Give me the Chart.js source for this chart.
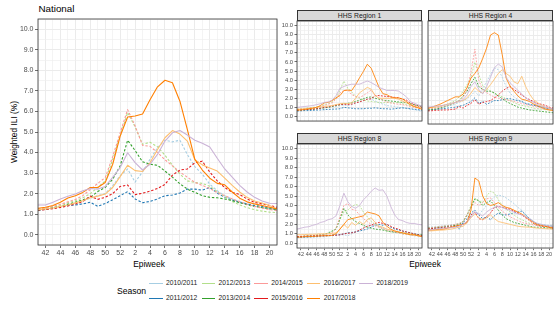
<!DOCTYPE html>
<html>
<head>
<meta charset="utf-8">
<script src="https://cdn.jsdelivr.net/npm/chart.js@4.4.1/dist/chart.umd.min.js"></script>
<style>
    body { margin: 0; width: 558px; height: 310px; background: #fff; position: relative; overflow: hidden;
           font-family: "Liberation Sans", Arial, Helvetica, sans-serif; }
    canvas { position: absolute; }
    .txt { position: absolute; white-space: nowrap; line-height: 1; }
    .strip { position: absolute; box-sizing: border-box; background: #D9D9D9; border: 0.8px solid #333;
             font-size: 6.8px; color: #1A1A1A; text-align: center; }
    .key { position: absolute; height: 1.2px; width: 13.6px; }
</style>
</head>
<body>
<div class="txt" style="left:38.5px; top:4px; font-size:9.8px; color:#000;">National</div>
<div class="txt" id="ytitle" style="left:14px; top:132px; font-size:8.4px; color:#000; transform: translate(-50%,-50%) rotate(-90deg);">Weighted ILI (%)</div>
<div class="txt" style="left:149px; top:263.5px; font-size:8.4px; color:#000; transform: translate(-50%,-50%);">Epiweek</div>
<div class="txt" style="left:425px; top:263.5px; font-size:8.4px; color:#000; transform: translate(-50%,-50%);">Epiweek</div>
<div class="txt" style="left:117px; top:291px; font-size:8.6px; color:#000; transform: translateY(-50%);">Season</div>
<div id="legend"></div>

<script>
// x positions are epiweek indexes: 1 = week 41 ... 33 = week 21
const weeks = [41, 42, 43, 44, 45, 46, 47, 48, 49, 50, 51, 52,
    1, 2, 3, 4, 5, 6, 7, 8, 9, 10, 11, 12, 13, 14, 15, 16, 17, 18, 19, 20, 21];

const seasons = ['2010/2011', '2011/2012', '2012/2013', '2013/2014', '2014/2015',
    '2015/2016', '2016/2017', '2017/2018', '2018/2019'];

const yTicks = [0, 1, 2, 3, 4, 5, 6, 7, 8, 9, 10];

// one row per season, same order as seasons
const national = [
    [1.2, 1.25, 1.3, 1.38, 1.47, 1.56, 1.65, 1.78, 1.9, 2.0, 2.38, 2.87, 3.2, 2.56, 3.06, 3.67, 4.24, 4.6, 4.52, 4.6, 3.9, 3.32, 2.95, 2.46, 2.14, 1.9, 1.74, 1.61, 1.5, 1.38, 1.32, 1.27, 1.22],
    [1.18, 1.24, 1.3, 1.36, 1.42, 1.45, 1.5, 1.58, 1.38, 1.52, 1.7, 1.9, 2.1, 1.74, 1.56, 1.62, 1.74, 1.9, 1.93, 2.03, 2.22, 2.22, 2.17, 2.3, 2.03, 1.82, 1.69, 1.58, 1.5, 1.42, 1.38, 1.3, 1.25],
    [1.25, 1.3, 1.36, 1.45, 1.55, 1.65, 1.8, 2.0, 2.3, 2.62, 3.67, 4.8, 5.95, 5.25, 4.4, 4.5, 4.28, 3.87, 3.38, 2.95, 2.62, 2.54, 2.5, 2.36, 2.1, 1.85, 1.62, 1.45, 1.32, 1.22, 1.15, 1.1, 1.08],
    [1.2, 1.25, 1.3, 1.38, 1.48, 1.58, 1.7, 1.82, 2.1, 2.3, 2.7, 3.35, 4.6, 4.1, 3.55, 3.43, 3.38, 3.1, 2.8, 2.48, 2.22, 2.06, 1.9, 1.82, 1.8, 1.74, 1.66, 1.56, 1.46, 1.38, 1.32, 1.26, 1.2],
    [1.25, 1.3, 1.38, 1.48, 1.6, 1.72, 1.9, 2.2, 2.5, 2.78, 3.8, 4.95, 6.09, 5.3, 4.35, 4.3, 4.0, 3.65, 3.35, 3.05, 2.8, 2.55, 2.4, 2.25, 2.05, 1.9, 1.75, 1.6, 1.48, 1.38, 1.3, 1.22, 1.18],
    [1.2, 1.22, 1.27, 1.33, 1.4, 1.5, 1.62, 1.88, 1.72, 1.82, 2.0, 2.35, 2.42, 1.95, 2.02, 2.12, 2.25, 2.45, 2.9, 3.15, 3.2, 3.5, 3.58, 3.05, 2.62, 2.3, 2.06, 1.96, 1.74, 1.58, 1.5, 1.42, 1.34],
    [1.22, 1.26, 1.3, 1.38, 1.45, 1.55, 1.65, 1.8, 1.88, 1.98, 2.3, 2.83, 3.38, 3.12, 3.08, 3.5, 4.15, 4.72, 5.07, 4.9, 4.56, 3.65, 3.4, 3.25, 3.1, 2.75, 2.4, 2.08, 1.82, 1.64, 1.54, 1.42, 1.25],
    [1.29, 1.34, 1.42, 1.58, 1.79, 1.9, 2.06, 2.3, 2.3, 2.54, 3.43, 4.8, 5.73, 5.78, 5.88, 6.57, 7.2, 7.52, 7.4, 6.5, 5.12, 3.67, 3.15, 2.75, 2.5, 2.43, 2.08, 1.78, 1.6, 1.5, 1.42, 1.34, 1.26],
    [1.45, 1.45, 1.58, 1.74, 1.87, 1.98, 2.14, 2.25, 2.22, 2.35, 2.79, 3.27, 3.99, 3.51, 3.15, 3.43, 3.91, 4.56, 4.96, 5.07, 4.85, 4.6, 4.45, 4.27, 3.72, 3.2, 2.8, 2.4, 2.08, 1.82, 1.64, 1.53, 1.52]
];

const region1 = [
    [0.7, 0.72, 0.75, 0.78, 0.8, 0.85, 0.9, 0.95, 1.0, 1.05, 1.1, 1.2, 1.25, 1.2, 1.3, 1.45, 1.6, 1.75, 1.9, 1.9, 1.7, 1.5, 1.35, 1.2, 1.15, 1.1, 1.0, 0.95, 0.9, 0.8, 0.75, 0.65, 0.6],
    [0.6, 0.62, 0.65, 0.65, 0.68, 0.7, 0.72, 0.75, 0.78, 0.8, 0.82, 0.85, 1.0, 0.95, 0.9, 0.85, 0.85, 0.85, 0.9, 0.9, 0.95, 0.9, 0.85, 0.85, 0.8, 0.85, 0.9, 0.95, 0.9, 0.85, 0.8, 0.75, 0.7],
    [0.8, 0.85, 0.9, 0.95, 1.0, 1.05, 1.15, 1.3, 1.4, 1.6, 2.0, 2.9, 3.9, 3.1, 2.7, 2.2, 2.0, 1.8, 1.7, 1.65, 1.6, 1.55, 1.5, 1.55, 1.5, 1.5, 1.55, 1.4, 1.3, 1.2, 1.1, 1.0, 0.95],
    [0.7, 0.72, 0.75, 0.78, 0.8, 0.85, 0.9, 0.95, 1.0, 1.1, 1.2, 1.3, 1.4, 1.45, 1.5, 1.65, 1.8, 1.95, 2.1, 2.15, 2.0, 1.9, 1.8, 1.75, 1.7, 1.65, 1.6, 1.55, 1.5, 1.4, 1.3, 1.2, 1.1],
    [0.75, 0.8, 0.85, 0.9, 0.95, 1.0, 1.1, 1.2, 1.35, 1.5, 1.9, 2.6, 2.85, 2.9, 2.4, 2.2, 2.1, 2.3, 2.6, 2.9, 2.3, 2.0, 1.8, 1.6, 1.5, 1.4, 1.35, 1.3, 1.2, 1.1, 1.0, 0.9, 0.85],
    [0.7, 0.72, 0.75, 0.78, 0.8, 0.85, 0.9, 1.0, 1.05, 1.15, 1.25, 1.3, 1.35, 1.3, 1.35, 1.5, 1.6, 1.75, 1.9, 1.95, 2.3, 2.3, 2.25, 2.2, 2.15, 2.1, 2.05, 1.9, 1.8, 1.5, 1.3, 1.15, 1.0],
    [0.8, 0.82, 0.85, 0.9, 0.95, 1.0, 1.05, 1.1, 1.15, 1.2, 1.3, 1.4, 1.45, 1.4, 1.5, 2.0, 2.6, 2.9, 3.2, 3.0, 2.3, 2.0, 2.0, 2.0, 2.0, 2.0, 1.9, 1.7, 1.5, 1.3, 1.1, 1.0, 0.9],
    [0.7, 0.72, 0.78, 0.85, 0.9, 1.0, 1.2, 1.5, 1.55, 1.75, 2.05, 2.3, 2.85, 2.9, 2.85, 3.5, 4.25, 4.95, 5.75, 5.3, 4.25, 3.2, 2.5, 2.4, 2.15, 2.05, 2.05, 1.92, 1.64, 1.3, 1.1, 0.95, 0.78],
    [1.0, 1.05, 1.1, 1.15, 1.2, 1.3, 1.4, 1.55, 1.6, 1.8, 2.3, 3.1, 3.3, 3.45, 3.55, 3.55, 3.55, 3.73, 3.9, 3.73, 3.48, 3.2, 3.03, 2.86, 2.86, 2.86, 2.79, 2.5, 2.16, 1.64, 1.46, 1.29, 1.15]
];

const region4 = [
    [1.1, 1.12, 1.15, 1.2, 1.3, 1.4, 1.5, 1.65, 1.8, 2.0, 2.2, 2.5, 3.0, 2.5, 3.3, 4.0, 4.8, 5.5, 5.3, 4.5, 3.5, 2.8, 2.4, 2.1, 1.9, 1.7, 1.6, 1.5, 1.4, 1.3, 1.2, 1.15, 1.1],
    [1.0, 1.02, 1.05, 1.1, 1.15, 1.2, 1.25, 1.3, 1.4, 1.5, 1.7, 1.9, 2.3, 1.7, 1.9, 1.6, 1.8, 2.0, 2.0, 2.1, 2.2, 2.2, 2.1, 2.0, 1.9, 1.7, 1.6, 1.5, 1.4, 1.3, 1.2, 1.15, 1.1],
    [1.1, 1.15, 1.25, 1.35, 1.5, 1.65, 1.8, 2.0, 2.4, 3.0, 3.7, 4.5, 6.1, 4.8, 3.6, 3.3, 3.0, 2.8, 2.6, 2.4, 2.2, 2.0, 1.8, 1.6, 1.5, 1.4, 1.3, 1.2, 1.15, 1.1, 1.05, 1.0, 1.0],
    [1.0, 1.05, 1.1, 1.2, 1.3, 1.45, 1.6, 1.8, 2.0, 2.5, 3.0, 3.8, 4.5, 3.5, 3.2, 3.0, 3.0, 2.8, 2.5, 2.2, 1.9, 1.7, 1.5, 1.3, 1.2, 1.1, 1.0, 0.95, 0.9, 0.85, 0.8, 0.75, 0.7],
    [1.1, 1.15, 1.2, 1.3, 1.4, 1.5, 1.65, 1.8, 2.0, 2.3, 3.2, 5.0, 7.5, 4.2, 3.1, 2.85, 2.6, 2.35, 2.25, 2.2, 2.1, 2.0, 1.9, 1.8, 1.7, 1.6, 1.5, 1.4, 1.3, 1.2, 1.1, 1.05, 1.0],
    [0.9, 0.92, 0.95, 0.98, 1.0, 1.0, 1.05, 1.1, 1.35, 1.2, 1.5, 1.7, 2.1, 1.6, 1.8, 1.9, 2.0, 2.3, 2.6, 3.0, 3.3, 3.5, 3.2, 2.9, 2.6, 2.3, 2.1, 1.9, 1.7, 1.6, 1.5, 1.3, 1.2],
    [1.2, 1.25, 1.3, 1.4, 1.5, 1.6, 1.7, 1.8, 1.9, 2.0, 2.3, 2.8, 3.4, 3.0, 2.8, 3.2, 3.7, 4.3, 4.9, 5.3, 4.9, 4.6, 4.0, 3.8, 4.6, 3.5, 2.7, 2.1, 1.8, 1.5, 1.3, 1.2, 1.1],
    [1.2, 1.3, 1.45, 1.6, 1.8, 2.0, 2.2, 2.4, 2.4, 2.7, 3.4, 4.4, 4.9, 5.5, 6.5, 7.6, 9.0, 9.25, 9.0, 6.9, 4.4, 3.55, 3.0, 2.5, 2.15, 2.05, 1.9, 1.64, 1.46, 1.3, 1.1, 1.0, 0.95],
    [1.3, 1.35, 1.4, 1.45, 1.5, 1.6, 1.7, 1.8, 1.9, 2.1, 2.6, 3.5, 4.0, 3.2, 2.7, 3.5, 4.5, 5.5, 5.9, 5.6, 4.5, 3.9, 3.5, 3.1, 2.7, 2.3, 2.0, 1.8, 1.6, 1.4, 1.3, 1.2, 1.1]
];

const region8 = [
    [0.6, 0.6, 0.62, 0.63, 0.65, 0.67, 0.68, 0.7, 0.75, 0.8, 0.85, 0.9, 0.9, 0.8, 1.0, 1.2, 1.4, 1.6, 1.8, 1.9, 2.0, 1.8, 1.6, 1.4, 1.2, 1.15, 1.1, 1.05, 1.0, 0.9, 0.8, 0.75, 0.7],
    [0.6, 0.62, 0.65, 0.68, 0.7, 0.72, 0.75, 0.8, 0.82, 0.85, 0.88, 0.9, 1.0, 1.1, 1.15, 1.2, 1.3, 1.4, 1.5, 1.7, 1.9, 2.0, 1.9, 2.0, 1.7, 1.5, 1.4, 1.3, 1.2, 1.1, 1.0, 0.9, 0.8],
    [0.7, 0.72, 0.75, 0.78, 0.8, 0.85, 0.9, 0.95, 1.0, 1.2, 1.6, 2.5, 3.3, 3.5, 3.9, 4.1, 4.0, 3.3, 2.8, 2.3, 2.0, 1.7, 1.5, 1.3, 1.2, 1.15, 1.1, 1.0, 0.95, 0.9, 0.85, 0.8, 0.8],
    [0.7, 0.72, 0.75, 0.78, 0.8, 0.85, 0.9, 0.95, 1.1, 1.3, 1.5, 2.6, 3.7, 3.0, 2.6, 2.3, 2.1, 1.9, 1.7, 1.6, 1.5, 1.45, 1.4, 1.3, 1.25, 1.2, 1.15, 1.1, 1.05, 1.0, 0.95, 0.9, 0.9],
    [0.7, 0.72, 0.75, 0.78, 0.8, 0.85, 0.9, 0.95, 1.0, 1.1, 1.6, 2.8, 4.0, 4.2, 3.6, 3.5, 3.0, 2.6, 2.3, 2.0, 1.85, 1.7, 1.55, 1.4, 1.3, 1.2, 1.1, 1.0, 0.95, 0.9, 0.85, 0.8, 0.8],
    [0.7, 0.72, 0.74, 0.75, 0.76, 0.78, 0.8, 0.8, 0.82, 0.85, 0.85, 0.9, 1.0, 1.05, 1.1, 1.2, 1.4, 1.6, 1.8, 1.9, 2.1, 2.2, 2.1, 2.0, 1.8, 1.6, 1.5, 1.3, 1.2, 1.1, 1.0, 0.9, 0.8],
    [0.9, 0.9, 0.92, 0.95, 0.95, 0.97, 1.0, 1.0, 1.0, 1.05, 1.1, 1.5, 2.0, 1.6, 2.2, 1.9, 2.3, 2.0, 2.5, 2.7, 2.2, 1.8, 1.7, 1.5, 1.4, 1.3, 1.2, 1.1, 1.05, 1.0, 0.9, 0.8, 0.7],
    [0.65, 0.65, 0.7, 0.7, 0.72, 0.75, 0.78, 0.8, 0.8, 0.85, 1.0, 1.5, 2.0, 2.5, 2.6, 2.7, 2.8, 2.9, 3.3, 3.2, 3.1, 2.9, 2.2, 1.8, 1.5, 1.3, 1.2, 1.1, 1.0, 0.9, 0.9, 0.8, 0.7],
    [1.5, 1.6, 1.7, 1.75, 1.9, 2.0, 2.2, 2.3, 2.5, 2.6, 2.9, 4.0, 5.3, 4.4, 3.9, 3.7, 4.0, 4.6, 5.0, 5.5, 5.85, 5.6, 5.65, 5.0, 3.9, 3.0, 2.5, 2.4, 2.2, 2.1, 2.1, 2.0, 1.95]
];

const region9 = [
    [1.7, 1.72, 1.75, 1.8, 1.85, 1.9, 1.95, 2.0, 2.05, 2.1, 2.2, 2.8, 3.3, 3.0, 3.5, 4.0, 4.5, 4.9, 5.1, 5.0, 4.8, 4.5, 4.2, 3.8, 3.5, 3.0, 2.6, 2.3, 2.1, 2.0, 1.9, 1.9, 1.9],
    [1.5, 1.55, 1.6, 1.65, 1.7, 1.8, 1.9, 1.9, 1.5, 2.2, 2.6, 3.2, 3.5, 3.0, 2.6, 2.8, 2.5, 2.9, 3.2, 3.0, 3.0, 3.1, 3.2, 3.3, 3.4, 3.0, 2.6, 2.3, 2.0, 1.9, 1.9, 1.8, 1.8],
    [1.6, 1.65, 1.7, 1.75, 1.8, 1.85, 1.9, 2.0, 2.1, 2.3, 3.0, 4.0, 4.7, 4.5, 4.3, 5.0, 5.5, 5.3, 4.6, 4.0, 3.6, 3.3, 3.0, 2.7, 2.5, 2.3, 2.1, 2.0, 1.95, 1.9, 1.85, 1.8, 1.8],
    [1.6, 1.62, 1.65, 1.7, 1.75, 1.8, 1.85, 1.9, 2.0, 2.3, 3.0, 3.8, 4.7, 4.5, 4.0, 4.3, 4.5, 4.0, 3.5, 3.0, 2.6, 2.4, 2.2, 2.1, 2.0, 1.9, 1.8, 1.7, 1.7, 1.7, 1.65, 1.6, 1.6],
    [1.6, 1.65, 1.7, 1.75, 1.8, 1.85, 1.9, 2.0, 2.1, 2.3, 3.0, 3.8, 4.3, 4.0, 4.3, 4.7, 4.8, 4.3, 3.8, 3.4, 3.1, 2.8, 2.6, 2.4, 2.2, 2.1, 2.0, 1.95, 1.9, 1.85, 1.8, 1.75, 1.7],
    [1.5, 1.55, 1.6, 1.62, 1.65, 1.7, 1.75, 1.8, 1.9, 2.0, 2.3, 3.0, 3.3, 2.6, 2.5, 2.8, 3.2, 3.8, 3.9, 3.8, 3.7, 3.6, 3.4, 3.2, 3.0, 2.7, 2.4, 2.1, 1.9, 1.8, 1.8, 1.7, 1.6],
    [1.3, 1.32, 1.35, 1.38, 1.4, 1.45, 1.5, 1.6, 1.7, 1.8, 2.2, 2.7, 3.1, 2.7, 2.5, 2.7, 3.0, 2.6, 2.3, 2.2, 2.1, 2.0, 1.9, 1.8, 1.75, 1.72, 1.7, 1.65, 1.6, 1.58, 1.55, 1.52, 1.5],
    [1.4, 1.42, 1.45, 1.48, 1.5, 1.6, 1.7, 1.8, 1.9, 2.0, 2.2, 3.5, 6.9, 6.6, 5.0, 4.2, 4.0, 4.1, 4.3, 4.0, 3.8, 3.7, 3.5, 3.3, 3.1, 2.8, 2.5, 2.2, 2.0, 1.9, 1.8, 1.7, 1.6],
    [1.4, 1.45, 1.5, 1.55, 1.6, 1.62, 1.65, 1.7, 1.8, 2.0, 2.3, 2.8, 3.3, 3.1, 2.9, 3.3, 3.6, 3.8, 3.9, 3.8, 3.6, 3.5, 3.3, 3.1, 3.0, 2.8, 2.6, 2.3, 2.1, 2.0, 1.9, 1.85, 1.8]
];

// ColorBrewer "Paired", first six seasons are drawn dashed
const colors = ['#A6CEE3', '#1F78B4', '#B2DF8A', '#33A02C', '#FB9A99',
    '#E31A1C', '#FDBF6F', '#FF7F00', '#CAB2D6'];
const dashedSeasons = 6;

Chart.defaults.font.family = '"Liberation Sans", Arial, Helvetica, sans-serif';

// panel border drawn over the lines, like ggplot's panel.border
const panelFrame = {
    id: 'panelFrame',
    afterDatasetsDraw(chart) {
        const a = chart.chartArea;
        const ctx = chart.ctx;
        ctx.save();
        ctx.strokeStyle = '#333333';
        ctx.lineWidth = 0.8;
        ctx.strokeRect(a.left, a.top, a.right - a.left, a.bottom - a.top);
        ctx.restore();
    }
};

const isMajorX = (ctx) => ctx.tick && ctx.tick.value % 2 === 0;
const isMajorY = (ctx) => ctx.tick && yTicks.includes(ctx.tick.value);

function makePanel(p) {
    const canvas = document.createElement('canvas');
    const left = p.area[0] - p.yW;
    const top = p.area[1] - p.padTop;
    const width = p.area[2] - left + 1;
    const height = p.area[3] - top + p.xH;
    canvas.width = width;
    canvas.height = height;
    canvas.style.left = left + 'px';
    canvas.style.top = top + 'px';
    canvas.style.width = width + 'px';
    canvas.style.height = height + 'px';
    document.body.appendChild(canvas);

    const big = p.big;
    const datasets = seasons.map((s, i) => ({
        label: s,
        data: p.data[i].map((v, j) => ({ x: j + 1, y: v })),
        borderColor: colors[i],
        borderWidth: big ? 1.1 : 0.85,
        borderDash: i < dashedSeasons ? (big ? [2.4, 1.8] : [1.8, 1.4]) : [],
        borderJoinStyle: 'round',
        pointRadius: 0,
        fill: false,
        tension: 0,
        order: seasons.length - i
    }));

    new Chart(canvas, {
        type: 'line',
        data: { datasets },
        plugins: [panelFrame],
        options: {
            responsive: false,
            animation: false,
            devicePixelRatio: 1,
            events: [],
            layout: { padding: { top: p.padTop, right: 1, left: 0, bottom: 0 } },
            plugins: { legend: { display: false }, tooltip: { enabled: false } },
            scales: {
                x: {
                    type: 'linear',
                    min: 1,
                    max: 33,
                    afterFit: (s) => { s.height = p.xH; },
                    border: { display: false },
                    grid: {
                        color: (ctx) => isMajorX(ctx) ? '#EBEBEB' : '#EFEFEF',
                        lineWidth: (ctx) => isMajorX(ctx) ? 1 : 0.7,
                        drawTicks: p.xLabels,
                        tickLength: big ? 3 : 2.2,
                        tickWidth: 0.7,
                        tickColor: (ctx) => isMajorX(ctx) ? '#333333' : 'rgba(0,0,0,0)'
                    },
                    ticks: {
                        display: p.xLabels,
                        stepSize: 1,
                        autoSkip: false,
                        includeBounds: false,
                        maxTicksLimit: 100,
                        maxRotation: 0,
                        minRotation: 0,
                        padding: big ? 1 : 0.5,
                        color: '#4D4D4D',
                        font: { size: big ? 7 : 5.5 },
                        callback: (v) => (v % 2 === 0) ? String(weeks[v - 1]) : ''
                    }
                },
                y: {
                    min: -0.5,
                    max: 10.5,
                    afterFit: (s) => { s.width = p.yW; },
                    border: { display: false },
                    grid: {
                        color: (ctx) => isMajorY(ctx) ? '#EBEBEB' : '#EFEFEF',
                        lineWidth: (ctx) => isMajorY(ctx) ? 1 : 0.7,
                        drawTicks: p.yLabels,
                        tickLength: big ? 3 : 2.5,
                        tickWidth: 0.7,
                        tickColor: (ctx) => isMajorY(ctx) ? '#333333' : 'rgba(0,0,0,0)'
                    },
                    ticks: {
                        display: p.yLabels,
                        stepSize: 0.5,
                        autoSkip: false,
                        includeBounds: false,
                        maxTicksLimit: 100,
                        padding: 1.5,
                        color: '#4D4D4D',
                        font: { size: big ? 7 : 5.8 },
                        callback: (v) => yTicks.includes(v) ? v.toFixed(1) : ''
                    }
                }
            }
        }
    });

    if (p.title) {
        const strip = document.createElement('div');
        strip.className = 'strip';
        strip.style.left = p.area[0] + 'px';
        strip.style.top = (p.area[1] - 11.5) + 'px';
        strip.style.width = (p.area[2] - p.area[0]) + 'px';
        strip.style.height = '11.8px';
        strip.style.lineHeight = '10.4px';
        strip.textContent = p.title;
        document.body.appendChild(strip);
    }
}

document.addEventListener('DOMContentLoaded', () => {
    // chart areas as [left, top, right, bottom] in page pixels
    const panels = [
        { data: national, area: [38, 19, 277, 245], yW: 38, xH: 16, padTop: 10, big: true, xLabels: true, yLabels: true },
        { data: region1, title: 'HHS Region 1', area: [297, 21, 422, 124], yW: 20, xH: 2, padTop: 14, xLabels: false, yLabels: true },
        { data: region4, title: 'HHS Region 4', area: [428, 21, 553, 124], yW: 4, xH: 2, padTop: 14, xLabels: false, yLabels: false },
        { data: region8, title: 'HHS Region 8', area: [297, 144, 422, 248], yW: 20, xH: 12, padTop: 14, xLabels: true, yLabels: true },
        { data: region9, title: 'HHS Region 9', area: [428, 144, 553, 248], yW: 4, xH: 12, padTop: 14, xLabels: true, yLabels: false }
    ];
    panels.forEach(makePanel);

    // legend: two rows, filled column by column
    const legend = document.getElementById('legend');
    seasons.forEach((s, i) => {
        const col = Math.floor(i / 2);
        const row = i % 2;
        const x = 149 + 52.6 * col;
        const y = row ? 298.3 : 283.3;
        const key = document.createElement('div');
        key.className = 'key';
        key.style.left = x + 'px';
        key.style.top = (y - 0.6) + 'px';
        key.style.background = colors[i];
        legend.appendChild(key);
        const label = document.createElement('div');
        label.className = 'txt';
        label.style.left = (x + 17) + 'px';
        label.style.top = y + 'px';
        label.style.fontSize = '6.7px';
        label.style.color = '#1A1A1A';
        label.style.transform = 'translateY(-50%)';
        label.textContent = s;
        legend.appendChild(label);
    });
});
</script>
</body>
</html>
